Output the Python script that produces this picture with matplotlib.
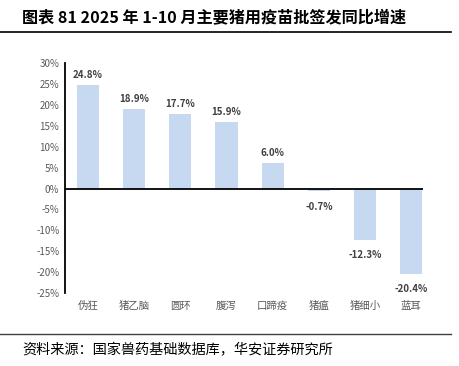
import matplotlib
matplotlib.use('Agg')
import matplotlib.pyplot as plt
from matplotlib.lines import Line2D

plt.rcParams['font.family'] = ['Noto Sans CJK SC', 'DejaVu Sans']

categories = ['伪狂', '猪乙脑', '圆环', '腹泻', '口蹄疫', '猪瘟', '猪细小', '蓝耳']
growth = [24.8, 18.9, 17.7, 15.9, 6.0, -0.7, -12.3, -20.4]
yticks = [30, 25, 20, 15, 10, 5, 0, -5, -10, -15, -20, -25]

fig = plt.figure(figsize=(4.6, 3.66), dpi=100)
ax = fig.add_axes([0.141, 0.199, 0.779, 0.629])

x = range(len(categories))
ax.bar(x, growth, width=0.48, color='#C6D9F1', zorder=2)
for i, v in enumerate(growth):
    if v >= 0:
        ax.text(i, v + 1.2, f'{v:.1f}%', ha='center', va='bottom', fontsize=7,
                fontweight='bold', color='#404040')
    else:
        ax.text(i, v - 2.5, f'{v:.1f}%', ha='center', va='top', fontsize=7,
                fontweight='bold', color='#404040')

ax.set_ylim(-25, 30)
ax.set_xlim(-0.5, 7.26)
ax.set_yticks(yticks)
ax.set_yticklabels([f'{t}%' for t in yticks], fontsize=7, color='#595959')
ax.tick_params(axis='y', length=0, pad=4)
ax.set_xticks([])
for i, c in enumerate(categories):
    ax.text(i, -26.8, c, ha='center', va='top', fontsize=7.5, color='#595959')

ax.axhline(0, color='black', lw=1.3, zorder=3)
for s in ['top', 'right', 'bottom']:
    ax.spines[s].set_visible(False)
ax.spines['left'].set_linewidth(1.3)

fig.text(0.048, 0.953, '图表 81 2025 年 1-10 月主要猪用疫苗批签发同比增速',
         fontsize=11.6, fontweight='bold', va='center', ha='left')
fig.add_artist(Line2D([0, 0.98], [0.912, 0.912], color='black', lw=1.2))
fig.add_artist(Line2D([0, 0.98], [0.088, 0.088], color='#404040', lw=1.0))
fig.text(0.048, 0.043, '资料来源：国家兽药基础数据库，华安证券研究所',
         fontsize=10.2, va='center', ha='left')

fig.savefig('out.png', dpi=100)
